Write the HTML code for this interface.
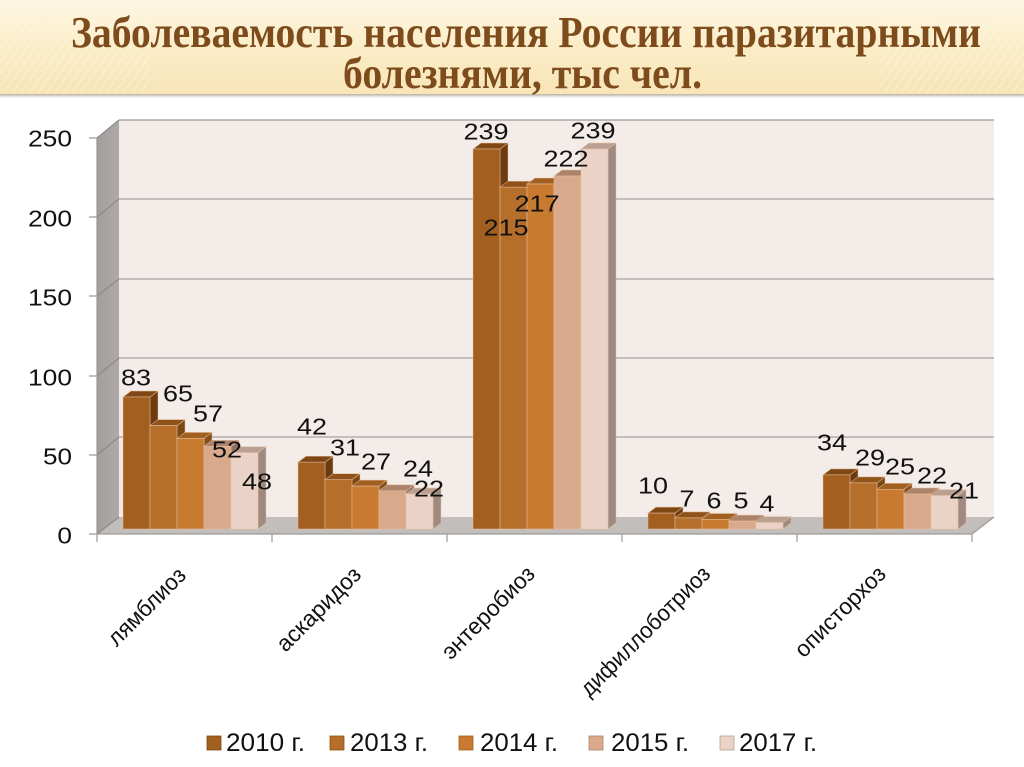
<!DOCTYPE html>
<html>
<head>
<meta charset="utf-8">
<style>
html,body{margin:0;padding:0;background:#fff}
body{width:1024px;height:767px;overflow:hidden}
svg{display:block}
.ax{font-family:"Liberation Sans","DejaVu Sans",sans-serif;font-size:23px;fill:#111}
.lg{font-family:"Liberation Sans","DejaVu Sans",sans-serif;font-size:25px;fill:#111}
.tt{font-family:"Liberation Serif","DejaVu Serif",serif;font-weight:bold;font-size:44px;fill:#7e4c1c}
.bar path{stroke:#e9c0a0;stroke-width:0.7;stroke-opacity:0.7}
</style>
</head>
<body>
<svg width="1024" height="767" viewBox="0 0 1024 767" xmlns="http://www.w3.org/2000/svg">
<defs>
<linearGradient id="band" x1="0" y1="0" x2="0" y2="1">
<stop offset="0" stop-color="#fdf6e2"/><stop offset="0.5" stop-color="#fbedc8"/><stop offset="1" stop-color="#f8e5b8"/>
</linearGradient>
<linearGradient id="shadow" x1="0" y1="0" x2="0" y2="1">
<stop offset="0" stop-color="#b9b1a3"/><stop offset="1" stop-color="#fff"/>
</linearGradient>
<pattern id="hatch" width="7" height="7" patternUnits="userSpaceOnUse" patternTransform="rotate(35)">
<line x1="0" y1="0" x2="0" y2="7" stroke="#fff" stroke-width="2"/>
</pattern>
<linearGradient id="sidewall" x1="0" y1="0" x2="1" y2="0">
<stop offset="0" stop-color="#a29e9d"/><stop offset="1" stop-color="#aeaaa9"/>
</linearGradient>
</defs>

<rect x="0" y="0" width="1024" height="94" fill="url(#band)"/>
<rect x="0" y="20" width="150" height="74" fill="url(#hatch)" opacity="0.35"/>
<rect x="880" y="20" width="144" height="74" fill="url(#hatch)" opacity="0.35"/>
<rect x="0" y="94" width="1024" height="4" fill="url(#shadow)"/>
<text class="tt" x="71" y="47" textLength="910" lengthAdjust="spacingAndGlyphs">Заболеваемость населения России паразитарными</text>
<text class="tt" x="343" y="88" textLength="359" lengthAdjust="spacingAndGlyphs">болезнями, тыс чел.</text>

<rect x="119" y="120" width="875" height="397" fill="#f4ece8"/>
<polygon points="97,138 119,120 119,517 97,534" fill="url(#sidewall)"/>
<polygon points="97,534 119,517 994,517 972,534" fill="#c1bebc"/>

<path d="M119 120H994" stroke="#999" stroke-width="1.2" fill="none"/>
<path d="M119 199H994M119 279H994M119 358H994M119 437H994" stroke="#a4a2a2" stroke-width="1.2" fill="none"/>
<path d="M97 138L119 120M97 217L119 199M97 296L119 279M97 376L119 358M97 455L119 437M97 534L119 517" stroke="#8e8a89" stroke-width="1.2" fill="none"/>
<path d="M97 138V534H972L994 517M89 138H97M89 217H97M89 296H97M89 376H97M89 455H97M89 534H97M97 534V542M272 534V542M447 534V542M622 534V542M797 534V542M972 534V542" stroke="#9a9a9a" stroke-width="1.2" fill="none"/>

<g class="ax">
<text x="28" y="146.3" textLength="44" lengthAdjust="spacingAndGlyphs">250</text>
<text x="28" y="226.3" textLength="44" lengthAdjust="spacingAndGlyphs">200</text>
<text x="28" y="305.3" textLength="44" lengthAdjust="spacingAndGlyphs">150</text>
<text x="28" y="385.3" textLength="44" lengthAdjust="spacingAndGlyphs">100</text>
<text x="43" y="464.3" textLength="29" lengthAdjust="spacingAndGlyphs">50</text>
<text x="57.4" y="543.3" textLength="14.6" lengthAdjust="spacingAndGlyphs">0</text>
</g>

<g class="bar">
<path fill="#6c3b10" d="M150 397l8 -6V523l-8 6Z M325 462.2l8 -6V523l-8 6Z M500 149l8 -6V523l-8 6Z M675 513.1l8 -6V523l-8 6Z M850 474.9l8 -6V523l-8 6Z"/>
<path fill="#7f4714" d="M123 397h27l8 -6h-27Z M298 462.2h27l8 -6h-27Z M473 149h27l8 -6h-27Z M648 513.1h27l8 -6h-27Z M823 474.9h27l8 -6h-27Z"/>
<path fill="#a25f1f" d="M123 397h27V529h-27Z M298 462.2h27V529h-27Z M473 149h27V529h-27Z M648 513.1h27V529h-27Z M823 474.9h27V529h-27Z"/>

<path fill="#7a4716" d="M177 425.6l8 -6V523l-8 6Z M352 479.7l8 -6V523l-8 6Z M527 187.2l8 -6V523l-8 6Z M702 517.9l8 -6V523l-8 6Z M877 482.9l8 -6V523l-8 6Z"/>
<path fill="#8f531a" d="M150 425.6h27l8 -6h-27Z M325 479.7h27l8 -6h-27Z M500 187.2h27l8 -6h-27Z M675 517.9h27l8 -6h-27Z M850 482.9h27l8 -6h-27Z"/>
<path fill="#b56f2a" d="M150 425.6h27V529h-27Z M325 479.7h27V529h-27Z M500 187.2h27V529h-27Z M675 517.9h27V529h-27Z M850 482.9h27V529h-27Z"/>

<path fill="#86501a" d="M204 438.4l8 -6V523l-8 6Z M379 486.1l8 -6V523l-8 6Z M554 184l8 -6V523l-8 6Z M729 519.5l8 -6V523l-8 6Z M904 489.3l8 -6V523l-8 6Z"/>
<path fill="#a0601f" d="M177 438.4h27l8 -6h-27Z M352 486.1h27l8 -6h-27Z M527 184h27l8 -6h-27Z M702 519.5h27l8 -6h-27Z M877 489.3h27l8 -6h-27Z"/>
<path fill="#c87b30" d="M177 438.4h27V529h-27Z M352 486.1h27V529h-27Z M527 184h27V529h-27Z M702 519.5h27V529h-27Z M877 489.3h27V529h-27Z"/>

<path fill="#947060" d="M231 446.3l8 -6V523l-8 6Z M406 490.8l8 -6V523l-8 6Z M581 176l8 -6V523l-8 6Z M756 521.1l8 -6V523l-8 6Z M931 494l8 -6V523l-8 6Z"/>
<path fill="#ab836a" d="M204 446.3h27l8 -6h-27Z M379 490.8h27l8 -6h-27Z M554 176h27l8 -6h-27Z M729 521.1h27l8 -6h-27Z M904 494h27l8 -6h-27Z"/>
<path fill="#d8a98b" d="M204 446.3h27V529h-27Z M379 490.8h27V529h-27Z M554 176h27V529h-27Z M729 521.1h27V529h-27Z M904 494h27V529h-27Z"/>

<path fill="#9e8a80" d="M258 452.7l8 -6V523l-8 6Z M433 494l8 -6V523l-8 6Z M608 149l8 -6V523l-8 6Z M783 522.6l8 -6V523l-8 6Z M958 495.6l8 -6V523l-8 6Z"/>
<path fill="#b9a092" d="M231 452.7h27l8 -6h-27Z M406 494h27l8 -6h-27Z M581 149h27l8 -6h-27Z M756 522.6h27l8 -6h-27Z M931 495.6h27l8 -6h-27Z"/>
<path fill="#ead3c6" d="M231 452.7h27V529h-27Z M406 494h27V529h-27Z M581 149h27V529h-27Z M756 522.6h27V529h-27Z M931 495.6h27V529h-27Z"/>
</g>

<g class="ax">
<text x="121" y="385.3" textLength="30" lengthAdjust="spacingAndGlyphs">83</text>
<text x="163" y="401.3" textLength="30" lengthAdjust="spacingAndGlyphs">65</text>
<text x="193" y="421.3" textLength="30" lengthAdjust="spacingAndGlyphs">57</text>
<text x="212" y="457.3" textLength="30" lengthAdjust="spacingAndGlyphs">52</text>
<text x="242" y="489.3" textLength="30" lengthAdjust="spacingAndGlyphs">48</text>
<text x="297" y="434.3" textLength="30" lengthAdjust="spacingAndGlyphs">42</text>
<text x="330" y="455.3" textLength="30" lengthAdjust="spacingAndGlyphs">31</text>
<text x="361" y="469.3" textLength="30" lengthAdjust="spacingAndGlyphs">27</text>
<text x="403" y="476.3" textLength="30" lengthAdjust="spacingAndGlyphs">24</text>
<text x="414" y="496.3" textLength="30" lengthAdjust="spacingAndGlyphs">22</text>
<text x="463.5" y="139.3" textLength="45" lengthAdjust="spacingAndGlyphs">239</text>
<text x="483.5" y="235.3" textLength="45" lengthAdjust="spacingAndGlyphs">215</text>
<text x="514.5" y="211.3" textLength="45" lengthAdjust="spacingAndGlyphs">217</text>
<text x="543.5" y="166.3" textLength="45" lengthAdjust="spacingAndGlyphs">222</text>
<text x="570.5" y="138.3" textLength="45" lengthAdjust="spacingAndGlyphs">239</text>
<text x="638" y="493.3" textLength="30" lengthAdjust="spacingAndGlyphs">10</text>
<text x="679.5" y="506.3" textLength="15" lengthAdjust="spacingAndGlyphs">7</text>
<text x="706.5" y="508.3" textLength="15" lengthAdjust="spacingAndGlyphs">6</text>
<text x="733.5" y="508.3" textLength="15" lengthAdjust="spacingAndGlyphs">5</text>
<text x="759.5" y="511.3" textLength="15" lengthAdjust="spacingAndGlyphs">4</text>
<text x="817" y="450.3" textLength="30" lengthAdjust="spacingAndGlyphs">34</text>
<text x="855" y="465.3" textLength="30" lengthAdjust="spacingAndGlyphs">29</text>
<text x="885" y="474.3" textLength="30" lengthAdjust="spacingAndGlyphs">25</text>
<text x="917" y="483.3" textLength="30" lengthAdjust="spacingAndGlyphs">22</text>
<text x="949" y="498.3" textLength="30" lengthAdjust="spacingAndGlyphs">21</text>
</g>

<g class="ax" text-anchor="middle">
<text x="152" y="612" transform="rotate(-45 152 612)" textLength="100" lengthAdjust="spacingAndGlyphs">лямблиоз</text>
<text x="324" y="614.5" transform="rotate(-45 324 614.5)" textLength="109" lengthAdjust="spacingAndGlyphs">аскаридоз</text>
<text x="493.5" y="618" transform="rotate(-45 493.5 618)" textLength="121" lengthAdjust="spacingAndGlyphs">энтеробиоз</text>
<text x="650.5" y="636.5" transform="rotate(-45 650.5 636.5)" textLength="173" lengthAdjust="spacingAndGlyphs">дифиллоботриоз</text>
<text x="845.5" y="617" transform="rotate(-45 845.5 617)" textLength="118" lengthAdjust="spacingAndGlyphs">описторхоз</text>
</g>

<rect x="207" y="736" width="14" height="14" fill="#a25f1f" stroke="#7f4714" stroke-width="0.8"/>
<rect x="330" y="736" width="14" height="14" fill="#b56f2a" stroke="#8f531a" stroke-width="0.8"/>
<rect x="459" y="736" width="14" height="14" fill="#c87b30" stroke="#a0601f" stroke-width="0.8"/>
<rect x="589" y="736" width="14" height="14" fill="#d8a98b" stroke="#ab836a" stroke-width="0.8"/>
<rect x="720" y="736" width="14" height="14" fill="#ead3c6" stroke="#b9a092" stroke-width="0.8"/>
<g class="lg">
<text x="226" y="751" textLength="79" lengthAdjust="spacingAndGlyphs">2010 г.</text>
<text x="350" y="751" textLength="78" lengthAdjust="spacingAndGlyphs">2013 г.</text>
<text x="480" y="751" textLength="78" lengthAdjust="spacingAndGlyphs">2014 г.</text>
<text x="611" y="751" textLength="78" lengthAdjust="spacingAndGlyphs">2015 г.</text>
<text x="739" y="751" textLength="78" lengthAdjust="spacingAndGlyphs">2017 г.</text>
</g>
</svg>
</body>
</html>
